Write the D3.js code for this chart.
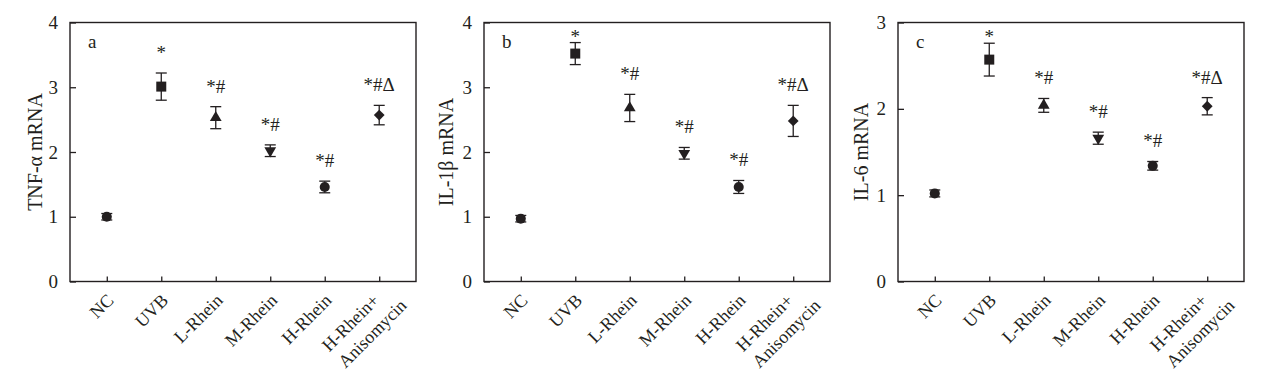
<!DOCTYPE html>
<html>
<head>
<meta charset="utf-8">
<script src="https://cdn.jsdelivr.net/npm/d3@7"></script>
<style>
  body { margin: 0; background: #fff; }
  text { font-family: 'Liberation Serif', 'Times New Roman', serif; fill: #231f20; }
</style>
</head>
<body>
<div id="vis"></div>
<script>
// groups on the x axis (last one is two lines)
var categories = ['NC', 'UVB', 'L-Rhein', 'M-Rhein', 'H-Rhein', 'H-Rhein+|Anisomycin'];
var shapes = ['circle', 'square', 'triUp', 'triDown', 'circle', 'diamond'];
var marks = ['', '*', '*#', '*#', '*#', '*#\u0394'];

// panel a: TNF-a
var tnfMean = [1.00, 3.01, 2.53, 2.02, 1.46, 2.57];
var tnfErr  = [0.05, 0.21, 0.17, 0.09, 0.09, 0.15];
// panel b: IL-1b
var il1bMean = [0.97, 3.52, 2.68, 1.98, 1.46, 2.48];
var il1bErr  = [0.05, 0.17, 0.21, 0.09, 0.10, 0.24];
// panel c: IL-6
var il6Mean = [1.02, 2.57, 2.04, 1.66, 1.34, 2.03];
var il6Err  = [0.04, 0.19, 0.08, 0.07, 0.05, 0.10];

var ticks4 = [0, 1, 2, 3, 4];
var ticks3 = [0, 1, 2, 3];

var width = 1269, height = 379;
var ink = '#231f20';

var svg = d3.select('#vis')
	.append('svg')
	.attr('width', width)
	.attr('height', height);

svg.append('rect').attr('width', width).attr('height', height).attr('fill', '#fff');

var panels = [
	{ left: 70,  letter: 'a', title: 'TNF-\u03b1 mRNA', mean: tnfMean, err: tnfErr, ticks: ticks4, titleX: 35 },
	{ left: 484, letter: 'b', title: 'IL-1\u03b2 mRNA', mean: il1bMean, err: il1bErr, ticks: ticks4, titleX: 446 },
	{ left: 898, letter: 'c', title: 'IL-6 mRNA', mean: il6Mean, err: il6Err, ticks: ticks3, titleX: 861 }
];

var plotTop = 22.5, plotBottom = 281.5, plotW = 346;

function symbolPath(s) {
	if (s == 'square') return d3.symbol(d3.symbolSquare, 100)();
	if (s == 'circle') return d3.symbol(d3.symbolCircle, 80)();
	if (s == 'diamond') return d3.symbol(d3.symbolSquare, 58)();
	return d3.symbol(d3.symbolTriangle, 60)();
}
function symbolRot(s) {
	if (s == 'diamond') return 45;
	if (s == 'triDown') return 180;
	return 0;
}

panels.forEach(function(p) {
	var g = svg.append('g');

	var x = d3.scalePoint()
		.domain(categories)
		.range([p.left, p.left + plotW])
		.padding(0.675);

	var y = d3.scaleLinear()
		.domain([0, d3.max(p.ticks)])
		.range([plotBottom, plotTop]);

	// y axis, ticks pointing inward
	g.append('g')
		.attr('transform', 'translate(' + p.left + ',0)')
		.call(d3.axisLeft(y).tickValues(p.ticks).tickSizeInner(-6).tickSizeOuter(0).tickPadding(12).tickFormat(d3.format('d')))
		.call(function(a) {
			a.select('.domain').remove();
			a.selectAll('line').attr('stroke', ink).attr('stroke-width', 1.3);
			a.selectAll('text').attr('font-size', 19).attr('fill', ink).style('font-family', "'Liberation Serif', serif");
		});

	// x axis ticks pointing inward
	g.append('g')
		.attr('transform', 'translate(0,' + plotBottom + ')')
		.call(d3.axisBottom(x).tickSizeInner(-5).tickSizeOuter(0).tickFormat(''))
		.call(function(a) {
			a.select('.domain').remove();
			a.selectAll('line').attr('stroke', ink).attr('stroke-width', 1.3);
		});

	// frame
	g.append('rect')
		.attr('x', p.left)
		.attr('y', plotTop)
		.attr('width', plotW)
		.attr('height', plotBottom - plotTop)
		.attr('fill', 'none')
		.attr('stroke', ink)
		.attr('stroke-width', 1.4);

	// category labels, rotated
	categories.forEach(function(c) {
		var lines = c.split('|');
		var t = g.append('g')
			.attr('transform', 'translate(' + (x(c) + 8) + ',' + (plotBottom + 20) + ') rotate(-45)');
		var first = t.append('text')
			.attr('text-anchor', 'end')
			.attr('font-size', 18)
			.text(lines[0]);
		if (lines.length > 1) {
			var w1 = first.node().getComputedTextLength();
			t.attr('transform', 'translate(' + (x(c) + 1) + ',' + (plotBottom + 20) + ') rotate(-45)');
			t.append('text')
				.attr('text-anchor', 'start')
				.attr('x', -w1)
				.attr('y', 23)
				.attr('font-size', 18)
				.text(lines[1]);
		}
	});

	// y title
	svg.append('text')
		.attr('transform', 'translate(' + p.titleX + ',' + ((plotTop + plotBottom) / 2) + ') rotate(-90)')
		.attr('text-anchor', 'middle')
		.attr('dy', '0.35em')
		.attr('font-size', 20)
		.text(p.title);

	// panel letter
	g.append('text')
		.attr('x', p.left + 18)
		.attr('y', 48)
		.attr('font-size', 19)
		.text(p.letter);

	var pts = categories.map(function(c, i) {
		return { cat: c, mean: p.mean[i], err: p.err[i], shape: shapes[i], mark: marks[i] };
	});

	var pt = g.selectAll('.pt')
		.data(pts)
		.enter().append('g')
		.attr('class', 'pt');

	pt.append('line')
		.attr('x1', function(d) { return x(d.cat); })
		.attr('x2', function(d) { return x(d.cat); })
		.attr('y1', function(d) { return y(d.mean - d.err); })
		.attr('y2', function(d) { return y(d.mean + d.err); })
		.attr('stroke', ink).attr('stroke-width', 1.3);

	[-1, 1].forEach(function(s) {
		pt.append('line')
			.attr('x1', function(d) { return x(d.cat) - 5.5; })
			.attr('x2', function(d) { return x(d.cat) + 5.5; })
			.attr('y1', function(d) { return y(d.mean + s * d.err); })
			.attr('y2', function(d) { return y(d.mean + s * d.err); })
			.attr('stroke', ink).attr('stroke-width', 1.3);
	});

	pt.append('path')
		.attr('d', function(d) { return symbolPath(d.shape); })
		.attr('transform', function(d) { return 'translate(' + x(d.cat) + ',' + y(d.mean) + ') rotate(' + symbolRot(d.shape) + ')'; })
		.attr('fill', ink);

	pt.append('text')
		.attr('x', function(d) { return x(d.cat); })
		.attr('y', function(d) { return Math.max(y(d.mean + d.err) - 14, plotTop + 20); })
		.attr('text-anchor', 'middle')
		.attr('font-size', 19)
		.text(function(d) { return d.mark; });
});
</script>
</body>
</html>
